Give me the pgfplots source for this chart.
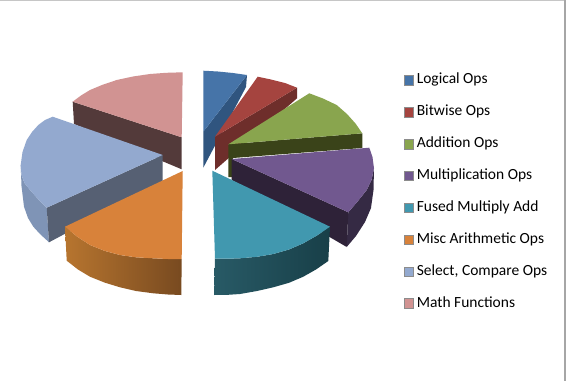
\documentclass[border=0pt]{standalone}
\usepackage{pgfplots}
\pgfplotsset{compat=1.18}
\usepackage{fontspec}
\setmainfont{Carlito}
\definecolor{cBlue}{HTML}{4674A8}\definecolor{sBlue}{HTML}{30557F}
\definecolor{cRed}{HTML}{A5443F}\definecolor{sRed}{HTML}{6E2E2B}
\definecolor{cGreen}{HTML}{89A54E}\definecolor{sGreen}{HTML}{3A4319}
\definecolor{cPurple}{HTML}{71588F}\definecolor{sPurple}{HTML}{2E2238}\definecolor{oPurple}{HTML}{352A44}
\definecolor{cTeal}{HTML}{4198AF}\definecolor{sTealL}{HTML}{285A66}\definecolor{sTealR}{HTML}{183F48}
\definecolor{cOrange}{HTML}{D8823A}\definecolor{sOrL}{HTML}{B7752F}\definecolor{sOrR}{HTML}{784A20}
\definecolor{cLight}{HTML}{93A9CF}\definecolor{sLight}{HTML}{566073}\definecolor{oLight}{HTML}{7F94B6}
\definecolor{cPink}{HTML}{D19392}\definecolor{sPink}{HTML}{533A3A}
\newcommand{\gap}{\hspace*{3.3pt}}
\begin{document}
\begin{tikzpicture}
\begin{axis}[
  x=1pt,y=1pt,scale only axis,y dir=reverse,
  xmin=0,xmax=566,ymin=0,ymax=381,
  hide axis,clip=false,
  every axis plot/.append style={forget plot},
  legend cell align=left,
  legend style={at={(axis cs:403.5,72.6)},anchor=north west,draw=none,fill=none,
    inner xsep=0pt,inner ysep=0pt,row sep=13.9pt,
    nodes={font=\fontsize{15.5}{17}\selectfont,text height=11pt,text depth=7pt,inner sep=0pt,xshift=1.3pt}},
  legend image code/.code={\path[#1,draw=black!45,line width=0.5pt] (0pt,-3.2pt) rectangle (9.3pt,6.4pt);},
]
% page
\addplot[fill=white,draw=none] coordinates {(0,0)(566,0)(566,381)(0,381)} --cycle;
\addplot[fill=gray!45,draw=none] coordinates {(0,0)(566,0)(566,1.3)(0,1.3)} --cycle;
\addplot[fill=gray!70,draw=none] coordinates {(564.4,0)(566,0)(566,381)(564.4,381)} --cycle;
% Logical Ops
\addplot[fill=sBlue,draw=none] coordinates {(247,75)(246,87)(203.3,167.7)(203.3,131.7)} --cycle;
\addplot[fill=cBlue,draw=none] coordinates {(203.3,70.7)(218,71.5)(233,73)(247,75)(203.3,131.7)} --cycle;
% Bitwise Ops
\addplot[fill=sRed,draw=none] coordinates {(297,87.7)(297,98.3)(215,170)(215,136.7)} --cycle;
\addplot[fill=cRed,draw=none] coordinates {(257.7,76.7)(271,79.5)(285,83)(297,87.7)(215,136.7)} --cycle;
% Addition Ops
\addplot[fill=sGreen,draw=none] coordinates {(228.3,144.3)(362.3,133.3)(362.3,148)(233,158)(233,177)(228.3,177)} --cycle;
\addplot[fill=cGreen,draw=none] coordinates {(309.3,93.3)(323,98.5)(336.7,105)(347,114)(355.5,123.5)(362.3,133.3)(228.3,144.3)} --cycle;
% Multiplication Ops
\addplot[fill=oPurple,draw=none] coordinates {(348.3,212.3)(358,201)(366.7,190)(371.5,180)(374,168.3)(373.5,190)(371,208)(365,222)(356,236)(346.7,247)} --cycle;
\addplot[fill=sPurple,draw=none] coordinates {(231.7,159)(348.3,212.3)(346.7,247)(231.7,180)} --cycle;
\addplot[fill=cPurple,draw=none] coordinates {(369.3,147.7)(372.5,157)(374,168.3)(371.5,180)(366.7,190)(358,201)(348.3,212.3)(231.7,159)} --cycle;
% Fused Multiply Add
\addplot[left color=sTealL,right color=sTealR,draw=none] coordinates {(215,258.7)(228,258.7)(240,258.3)(257,256.8)(273.3,254)(289,249.5)(303.3,243.3)(317,235.5)(330,226.7)(328.3,261)(316,269.5)(303.3,276.7)(289,282.8)(273.3,287.3)(257,291)(240,294)(228,294.8)(214,295)} --cycle;
\addplot[fill=cTeal,draw=none] coordinates {(212.3,170.7)(330,226.7)(317,235.5)(303.3,243.3)(289,249.5)(273.3,254)(257,256.8)(240,258.3)(228,258.7)(215,258.7)} --cycle;
% Math Functions
\addplot[fill=sPink,draw=none] coordinates {(72.7,101.7)(181.7,137.3)(181.7,169.3)(74,124)} --cycle;
\addplot[fill=cPink,draw=none] coordinates {(182.7,72.3)(166,72.8)(150,74)(133,76.5)(116.7,80)(102,85)(90,90)(81,95.5)(72.7,101.7)(181.7,137.3)} --cycle;
% Select, Compare Ops
\addplot[fill=oLight,draw=none] coordinates {(20.7,165)(21.5,175)(24.5,183)(30,190)(38,199)(46.7,207.7)(49,242.3)(40,234)(33.3,226.7)(28,218)(24,206.7)(21.5,186)} --cycle;
\addplot[fill=sLight,draw=none] coordinates {(162.7,155)(162.7,181.7)(49,242.3)(46.7,207.7)} --cycle;
\addplot[fill=cLight,draw=none] coordinates {(52.7,116.7)(162.7,155)(46.7,207.7)(38,199)(30,190)(24.5,183)(21.5,175)(20.7,165)(22.5,152)(26.7,140)(32,132)(38.3,125)(45,120)} --cycle;
% Misc Arithmetic Ops
\addplot[left color=sOrL,right color=sOrR,draw=none] coordinates {(65,226.7)(77,236.5)(90,245)(105,251)(120,255)(136,257.3)(153.3,258.3)(168,259)(181.7,259)(181.3,295)(168,294.5)(153.3,293.3)(136,291)(120,287.3)(105,282.7)(90,276.7)(78,269.5)(66.7,260.7)} --cycle;
\addplot[fill=cOrange,draw=none] coordinates {(182.7,171)(181.7,259)(168,259)(153.3,258.3)(136,257.3)(120,255)(105,251)(90,245)(77,236.5)(65,226.7)} --cycle;
% Legend
\addlegendimage{fill=cBlue}\addlegendentry{\gap Logical Ops}
\addlegendimage{fill=cRed}\addlegendentry{\gap Bitwise Ops}
\addlegendimage{fill=cGreen}\addlegendentry{\gap Addition Ops}
\addlegendimage{fill=cPurple}\addlegendentry{\gap Multiplication Ops}
\addlegendimage{fill=cTeal}\addlegendentry{\gap Fused Multiply Add}
\addlegendimage{fill=cOrange}\addlegendentry{\gap Misc Arithmetic Ops}
\addlegendimage{fill=cLight}\addlegendentry{\gap Select, Compare Ops}
\addlegendimage{fill=cPink}\addlegendentry{\gap Math Functions}
\end{axis}
\end{tikzpicture}
\end{document}
